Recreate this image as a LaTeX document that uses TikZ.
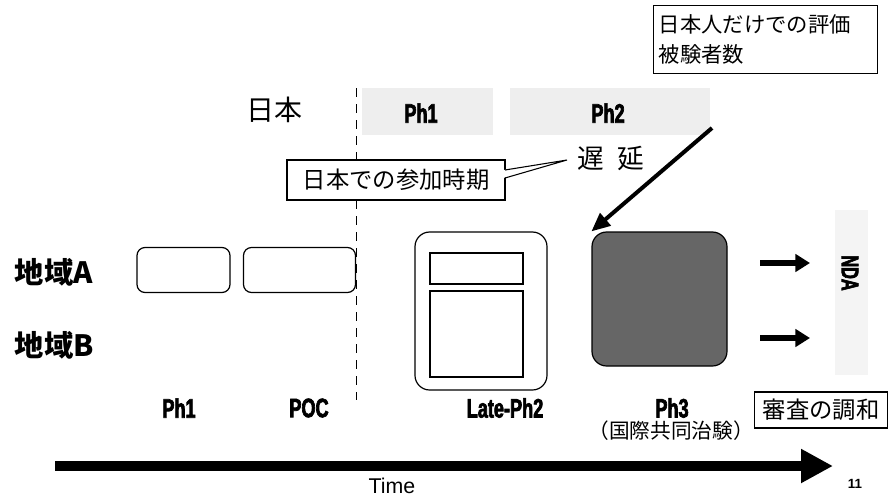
\documentclass[tikz,border=0pt]{standalone}
\usepackage{fontspec}
\setmainfont{Liberation Sans}
\newfontfamily\jp{Noto Sans CJK JP}
\newfontfamily\cond[FakeStretch=0.68,FakeBold=2.5]{Liberation Sans}
\usetikzlibrary{arrows.meta}
\tikzset{
  rbox/.style={draw, line width=0.9pt, rounded corners=6pt, inner sep=0pt},
  sqbox/.style={draw, line width=0.8pt, inner sep=0pt},
  phase/.style={font=\cond\bfseries\fontsize{20}{22}\selectfont, inner sep=0.5pt},
  jplbl/.style={font=\jp\fontsize{16}{22}\selectfont},
  region/.style={font=\jp\bfseries\fontsize{22}{24}\selectfont, anchor=west},
  fatarrow/.style={line width=4.5pt, -{Triangle[length=11pt,width=13pt]}},
}
\begin{document}
\begin{tikzpicture}[x=0.75pt,y=-0.75pt]
\useasboundingbox (0,0) rectangle (896,497);

% top note box
\node[sqbox, jplbl, align=left, anchor=north west, minimum width=168pt, minimum height=51pt, text width=160pt, inner xsep=4pt] (note) at (653,5) {日本人だけでの評価\\被験者数};

% Japan row
\node[font=\jp\fontsize{21}{24}\selectfont] (jpn) at (274,110) {日本};
\fill[gray!13] (362,88) rectangle (493,135);
\fill[gray!13] (510,88) rectangle (710,135);
\node[phase] (jph1) at (421,113) {Ph1};
\node[phase] (jph2) at (608,113) {Ph2};

% dashed separator
\coordinate (dtop) at (356,88);
\coordinate (dbot) at (356,400);
\draw[line width=0.6pt, dash pattern=on 7pt off 5pt] (dtop) -- (dbot);

% delay label and callout
\node[font=\jp\fontsize{20}{22}\selectfont, anchor=west] (delay) at (573,158) {遅\hspace{0.5em}延};
\node[sqbox, fill=white, minimum width=163.5pt, minimum height=30pt, font=\jp\fontsize{17.5}{22}\selectfont] (call) at (396,180) {日本での参加時期};
\coordinate (tip) at (567,160);
\fill[white] (503.5,170) -- (tip) -- (503.5,178) -- cycle;
\draw[line width=0.8pt] (505,170) -- (tip) -- (505,178);

% regions
\node[region] (ra) at (10,272) {地域A};
\node[region] (rb) at (10,345) {地域B};

% boxes
\node[rbox, minimum width=69.75pt, minimum height=33.75pt] (b1) at (183.5,270) {};
\node[rbox, minimum width=84pt, minimum height=33.75pt] (b2) at (299.5,270) {};
\node[rbox, rounded corners=11pt, minimum width=99pt, minimum height=118.5pt] (late) at (481,311) {};
\node[sqbox, minimum width=69.75pt, minimum height=23.25pt] (li1) at (476.5,268.5) {};
\node[sqbox, minimum width=69.75pt, minimum height=64.5pt] (li2) at (476.5,334) {};
\node[rbox, rounded corners=11pt, fill=black!60, minimum width=101.25pt, minimum height=100.5pt] (ph3) at (659.5,299) {};

% diagonal arrow
\coordinate (dstart) at (712,128);
\draw[line width=3pt, -{Triangle[length=14pt,width=12pt]}] (dstart) -- (ph3.north west);

% NDA
\fill[gray!9] (835,210) rectangle (868,375);
\node[rotate=-90, font=\cond\bfseries\fontsize{18}{20}\selectfont] (nda) at (850,273) {NDA};
\coordinate (aa) at (760,263);
\coordinate (ab) at (760,338);
\draw[fatarrow] (aa) -- (810,263);
\draw[fatarrow] (ab) -- (810,338);

% phase labels
\node[phase] (l1) at (179,408) {Ph1};
\node[phase] (l2) at (309,408) {POC};
\node[phase] (l3) at (505,408) {Late-Ph2};
\node[phase] (l4) at (672,408) {Ph3};
\node[font=\jp\fontsize{15.5}{18}\selectfont, inner sep=0.5pt] (l4b) at (671,431) {（国際共同治験）};
\node[sqbox, minimum width=100pt, minimum height=27pt, font=\jp\fontsize{17.5}{20}\selectfont] (rev) at (821,410) {審査の調和};

% time arrow
\coordinate (t0) at (55,466);
\coordinate (t1) at (833,466);
\draw[line width=7.5pt, -{Triangle[length=24pt,width=24pt]}] (t0) -- (t1);
\node[font=\fontsize{16}{18}\selectfont] (time) at (392,486) {Time};
\node[font=\bfseries\fontsize{10}{12}\selectfont] (pg) at (855,484) {11};
\end{tikzpicture}
\end{document}
